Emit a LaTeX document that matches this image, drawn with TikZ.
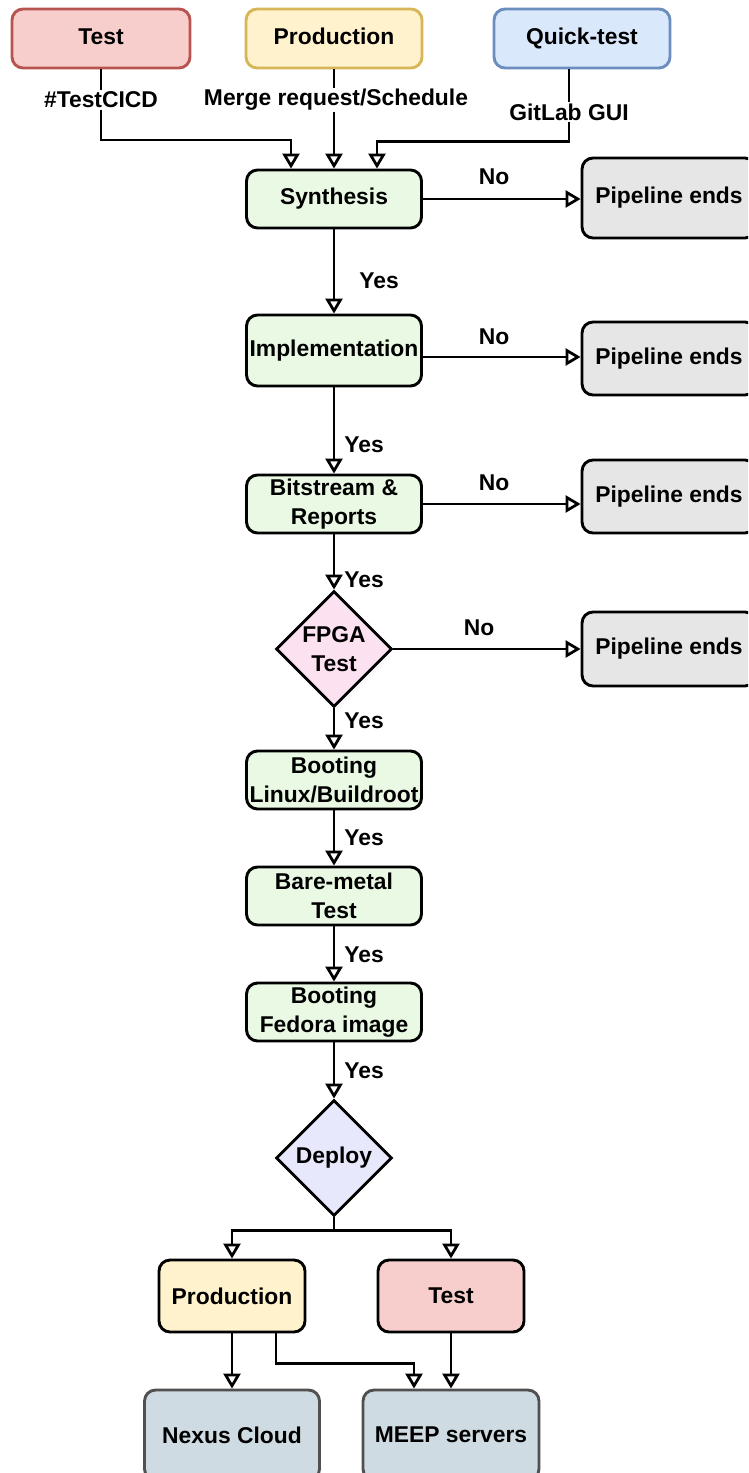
\documentclass[tikz,border=0pt]{standalone}
\usepackage{fontspec}
\setmainfont{Liberation Sans}
\usetikzlibrary{arrows.meta,shapes.geometric}

\definecolor{redfill}{HTML}{F8CECC}
\definecolor{reddraw}{HTML}{B85450}
\definecolor{yelfill}{HTML}{FFF2CC}
\definecolor{yeldraw}{HTML}{D6B656}
\definecolor{blufill}{HTML}{DAE8FC}
\definecolor{bludraw}{HTML}{6C8EBF}
\definecolor{stepfill}{HTML}{E9F9E4}
\definecolor{endfill}{HTML}{E6E6E6}
\definecolor{fpgafill}{HTML}{FCE2F1}
\definecolor{deployfill}{HTML}{E7E8FB}
\definecolor{srvfill}{HTML}{CFDBE2}
\definecolor{srvdraw}{HTML}{505050}

\begin{document}
\begin{tikzpicture}[x=0.02cm,y=-0.02cm,
  every node/.style={font=\fontsize{13}{16.5}\selectfont\bfseries},
  box/.style={draw, rounded corners=0.22cm, line width=0.058cm,
    minimum width=3.5cm, minimum height=1.16cm, align=center, inner sep=0pt},
  srcbox/.style={box, minimum width=3.52cm, minimum height=1.18cm,
    text height=1.75ex, text depth=0.45ex},
  stepbox/.style={box, fill=stepfill},
  endbox/.style={box, fill=endfill, minimum width=3.48cm},
  srvbox/.style={box, fill=srvfill, draw=srvdraw, minimum height=1.8cm},
  decide/.style={diamond, draw, line width=0.058cm, aspect=1,
    minimum width=2.32cm, minimum height=2.32cm, inner sep=0pt, align=center},
  flow/.style={line width=0.055cm, -{Triangle[open,length=0.3cm,width=0.34cm]}},
  lbl/.style={fill=white, inner sep=1pt},
  yes/.style={anchor=west, inner sep=0pt},
  no/.style={inner sep=0pt}
]
\useasboundingbox (0,0) rectangle (748,1473);
\clip (0,0) rectangle (748,1473);

% trigger sources
\node[srcbox, fill=redfill, draw=reddraw, minimum width=3.56cm] (srcTest) at (101,38.5) {Test};
\node[srcbox, fill=yelfill, draw=yeldraw] (srcProd) at (334,38.5) {Production};
\node[srcbox, fill=blufill, draw=bludraw] (srcQuick) at (582,38.5) {Quick-test};

% main pipeline stages
\node[stepbox] (syn) at (334,199) {Synthesis};
\node[stepbox, minimum height=1.42cm] (impl) at (334,350.5) {Implementation};
\node[stepbox] (bit) at (334,504) {Bitstream \&\\Reports};
\node[decide, fill=fpgafill] (fpga) at (334,649) {FPGA\\Test};
\node[stepbox] (boot1) at (334,780) {Booting\\Linux/Buildroot};
\node[stepbox] (bare) at (334,896) {Bare-metal\\Test};
\node[stepbox] (boot2) at (334,1012) {Booting\\Fedora image};
\node[decide, fill=deployfill] (deploy) at (334,1158) {Deploy};

% failure exits
\node[endbox, minimum height=1.6cm] (pe1) at (669,198) {Pipeline ends};
\node[endbox, minimum height=1.46cm] (pe2) at (669,358.5) {Pipeline ends};
\node[endbox, minimum height=1.46cm] (pe3) at (669,496.5) {Pipeline ends};
\node[endbox, minimum height=1.48cm] (pe4) at (669,649) {Pipeline ends};

% deployment targets
\node[box, fill=yelfill, minimum width=2.92cm, minimum height=1.44cm] (prod2) at (232,1296) {Production};
\node[box, fill=redfill, minimum width=2.92cm, minimum height=1.44cm] (test2) at (451,1296) {Test};
\node[srvbox] (nexus) at (232,1435) {Nexus Cloud};
\node[srvbox, minimum width=3.52cm] (meep) at (451,1435) {MEEP servers};

% triggers into synthesis
\draw[flow] (srcTest.south) -- (101,140) -| ([xshift=-0.86cm]syn.north);
\draw[flow] (srcProd.south) -- (syn.north);
\draw[flow] ([xshift=-0.26cm]srcQuick.south) -- ++(0,72) -| ([xshift=0.86cm]syn.north);
\node[lbl] (lTest) at (101,100) {\#TestCICD};
\node[lbl] (lProd) at (336,100) {Merge request/Schedule};
\node[lbl] (lQuick) at (569,112) {GitLab GUI};

% success path
\draw[flow] (syn.south) -- (impl.north);
\draw[flow] (impl.south) -- (bit.north);
\draw[flow] (bit.south) -- (fpga.north);
\draw[flow] (fpga.south) -- (boot1.north);
\draw[flow] (boot1.south) -- (bare.north);
\draw[flow] (bare.south) -- (boot2.north);
\draw[flow] (boot2.south) -- (deploy.north);

\node[yes] (y1) at (359,281) {Yes};
\node[yes] (y2) at (344,445) {Yes};
\node[yes] (y3) at (344,580) {Yes};
\node[yes] (y4) at (344,721) {Yes};
\node[yes] (y5) at (344,838) {Yes};
\node[yes] (y6) at (344,955) {Yes};
\node[yes] (y7) at (344,1071) {Yes};

% failure path
\draw[flow] (syn.east) -- (syn.east -| pe1.west);
\draw[flow] (impl.east |- 0,357) -- (pe2.west |- 0,357);
\draw[flow] (bit.east) -- (bit.east -| pe3.west);
\draw[flow] (fpga.east) -- (pe4.west);

\node[no] (n1) at (494,177) {No};
\node[no] (n2) at (494,337) {No};
\node[no] (n3) at (494,483) {No};
\node[no] (n4) at (479,628) {No};

% deployment branch
\draw[flow] (deploy.south) -- ++(0,13) -| (prod2.north);
\draw[flow] (deploy.south) -- ++(0,13) -| (test2.north);
\draw[flow] (prod2.south) -- (nexus.north);
\draw[flow] ([xshift=0.88cm]prod2.south) -- ++(0,30) -| ([xshift=-0.74cm]meep.north);
\draw[flow] (test2.south) -- (meep.north);
\end{tikzpicture}
\end{document}
